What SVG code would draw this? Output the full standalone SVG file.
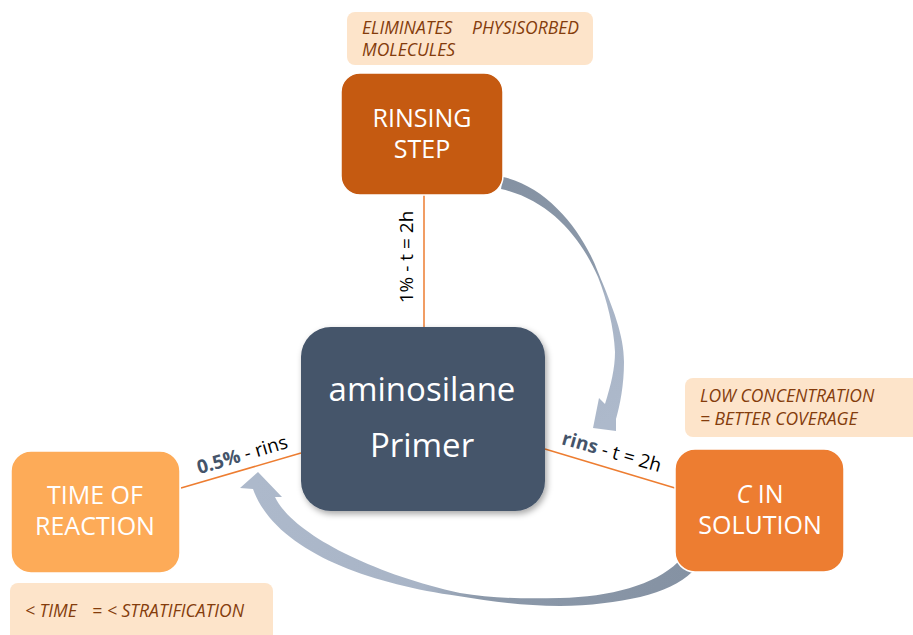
<svg xmlns="http://www.w3.org/2000/svg" width="913" height="635" viewBox="0 0 913 635">
  <defs>
    <style>
      .node-text { font-family: "Open Sans", "Liberation Sans", sans-serif; font-size: 25px; fill: #ffffff; text-anchor: middle; }
      .main-text { font-family: "Open Sans", "Liberation Sans", sans-serif; font-size: 33px; fill: #ffffff; text-anchor: middle; }
      .note-box { fill: #fde4ca; }
      .note-text { font-family: "Open Sans", "Liberation Sans", sans-serif; font-size: 17.5px; font-style: italic; fill: #843c0c; }
      .link { stroke: #ed7d31; stroke-width: 1.5; fill: none; }
      .link-label { font-family: "Open Sans", "Liberation Sans", sans-serif; font-size: 19px; fill: #000000; text-anchor: middle; }
      .strong { font-weight: bold; fill: #44546a; }
      .node-shape { stroke: #ffffff; stroke-width: 1.5; }
    </style>
    <linearGradient id="flowTop" gradientUnits="userSpaceOnUse" x1="505" y1="183" x2="600" y2="425">
      <stop offset="0" stop-color="#8592a3"/>
      <stop offset="0.42" stop-color="#8c99aa"/>
      <stop offset="0.55" stop-color="#a8b4c6"/>
      <stop offset="1" stop-color="#adb9cb"/>
    </linearGradient>
    <linearGradient id="flowBottom" gradientUnits="userSpaceOnUse" x1="690" y1="570" x2="258" y2="472">
      <stop offset="0" stop-color="#8592a3"/>
      <stop offset="0.45" stop-color="#8c99aa"/>
      <stop offset="0.58" stop-color="#a8b4c6"/>
      <stop offset="1" stop-color="#adb9cb"/>
    </linearGradient>
    <filter id="softShadow" x="-10%" y="-10%" width="125%" height="130%">
      <feDropShadow dx="2" dy="3" stdDeviation="3" flood-color="#000000" flood-opacity="0.35"/>
    </filter>
  </defs>

  <!-- connectors: straight links with their labels, and the two curved flow arrows -->
  <g id="connectors">
    <line class="link" x1="424" y1="195" x2="424" y2="327"/>
    <line class="link" x1="181" y1="488" x2="301" y2="453"/>
    <line class="link" x1="545" y1="449" x2="675" y2="488"/>

    <text class="link-label" transform="translate(413,257) rotate(-90)">1% - t = 2h</text>
    <text class="link-label" transform="translate(244,461) rotate(-16.5)"><tspan class="strong">0.5%</tspan> - rins</text>
    <text class="link-label" transform="translate(610,458) rotate(16)"><tspan class="strong">rins</tspan> - t = 2h</text>

    <!-- rinsing step -> concentration -->
    <path fill="url(#flowTop)" d="M 503,177 C 548,187 583,232 598,272 C 613,308 624,335 624,362 C 624,385 620,405 616,419 L 616,431 L 593,428 L 599,398 L 605,404 C 611,385 615,368 615,352 C 614,328 607,300 598,277 C 581,238 550,200 501,189 Z"/>
    <!-- concentration -> time of reaction -->
    <path fill="url(#flowBottom)" d="M 258,472 L 282,497 L 275,497 C 292,533 370,573 460,593 C 490,598 520,599 560,598 C 610,597 655,585 678,562 L 692,572 C 670,594 620,605 560,606 C 520,606 490,601 458,596 C 365,583 275,550 253,489 L 240,488 Z"/>
  </g>

  <!-- annotation boxes -->
  <g id="note-rinsing">
    <rect class="note-box" x="347" y="12" width="246" height="53" rx="8"/>
    <text class="note-text" y="34"><tspan x="362">ELIMINATES</tspan><tspan x="472">PHYSISORBED</tspan></text>
    <text class="note-text" x="362" y="56">MOLECULES</text>
  </g>
  <g id="note-concentration">
    <rect class="note-box" x="685" y="378" width="240" height="59" rx="8"/>
    <text class="note-text" x="700" y="402">LOW CONCENTRATION</text>
    <text class="note-text" x="700" y="425">= BETTER COVERAGE</text>
  </g>
  <g id="note-time">
    <rect class="note-box" x="10" y="583" width="263" height="70" rx="8"/>
    <text class="note-text" y="617"><tspan x="25">&lt; TIME</tspan><tspan x="92">=</tspan><tspan x="107">&lt; STRATIFICATION</tspan></text>
  </g>

  <!-- nodes -->
  <g id="node-rinsing">
    <rect class="node-shape" x="341" y="73" width="162" height="122" rx="19" fill="#c55a11"/>
    <text class="node-text" x="422" y="127">RINSING</text>
    <text class="node-text" x="422" y="158">STEP</text>
  </g>
  <g id="node-primer">
    <rect x="301" y="327" width="244" height="184" rx="30" fill="#44546a" filter="url(#softShadow)"/>
    <text class="main-text" x="422" y="401">aminosilane</text>
    <text class="main-text" x="422" y="457">Primer</text>
  </g>
  <g id="node-time">
    <rect class="node-shape" x="11" y="451" width="169" height="122" rx="20" fill="#fdab58"/>
    <text class="node-text" x="95" y="504">TIME OF</text>
    <text class="node-text" x="95" y="535">REACTION</text>
  </g>
  <g id="node-concentration">
    <rect class="node-shape" x="675" y="449" width="169" height="123" rx="20" fill="#ed7d31"/>
    <text class="node-text" x="760" y="503"><tspan font-style="italic">C</tspan> IN</text>
    <text class="node-text" x="760" y="534">SOLUTION</text>
  </g>
</svg>
